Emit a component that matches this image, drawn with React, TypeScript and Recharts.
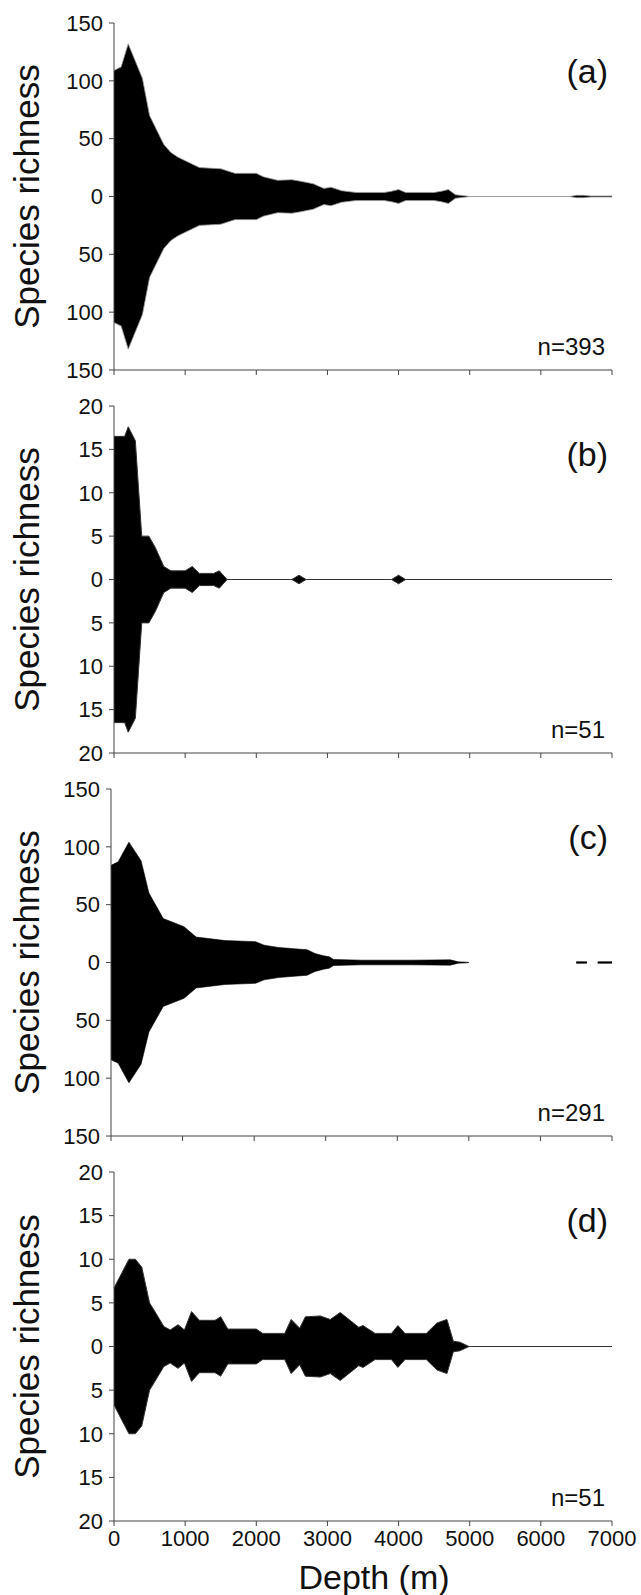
import React from "react";
import { AreaChart, Area, XAxis, YAxis } from "recharts";

// depth ticks shared by all four panels
const depthTicks = [0, 1000, 2000, 3000, 4000, 5000, 6000, 7000];
const wideTicks = [-150, -100, -50, 0, 50, 100, 150];
const narrowTicks = [-20, -15, -10, -5, 0, 5, 10, 15, 20];

// (a) all species
const depthA = [0, 100, 200, 400, 500, 700, 800, 900, 1200, 1500, 1700, 2000, 2100, 2300, 2500, 2600, 2800, 2950, 3050, 3200, 3400, 3800, 3900, 4000, 4100, 4500, 4600, 4700, 4800, 4950, 5000, 6400, 6500, 6600, 6700, 7000];
const richA = [109, 112, 132, 102, 70, 45, 38, 34, 25, 24, 20, 20, 17, 14, 14.5, 13.5, 11, 7, 8, 5, 3.5, 3.5, 4.5, 6, 3.5, 3.5, 4.5, 6, 1.5, 0.5, 0, 0, 1, 1, 0.5, 0.5];

// (b)
const depthB = [0, 150, 200, 300, 390, 490, 580, 700, 800, 1000, 1100, 1200, 1400, 1480, 1590, 2500, 2600, 2700, 3900, 4000, 4100, 7000];
const richB = [16.5, 16.5, 17.6, 16, 5, 5, 3.7, 1.5, 1, 1, 1.5, 0.7, 0.7, 1, 0, 0, 0.5, 0, 0, 0.5, 0, 0];

// (c)
const depthC = [0, 100, 250, 420, 530, 730, 1020, 1190, 1590, 2020, 2140, 2340, 2740, 2850, 2970, 3050, 3110, 3500, 4200, 4740, 4850, 4970, 5000, 5500, 6500, 6650, 6700, 6800, 7000];
const richC = [84, 87, 104, 88, 60, 38, 31, 22, 19, 18, 15, 13, 11, 7.8, 5.8, 4.9, 2.6, 2, 2, 2.3, 0.6, 0.3, 0, null, 0.7, 0.7, null, 0.7, 0.7];

// (d)
const depthD = [0, 210, 300, 390, 500, 590, 700, 790, 900, 990, 1090, 1200, 1420, 1500, 1600, 2000, 2090, 2400, 2490, 2610, 2690, 2900, 3040, 3180, 3440, 3500, 3670, 3900, 3990, 4090, 4390, 4540, 4680, 4770, 4860, 4990, 7000];
const richD = [6.7, 10, 10, 9.1, 5, 3.8, 2.3, 1.9, 2.5, 1.9, 4, 3, 3, 3.4, 2, 2, 1.5, 1.5, 3.1, 2.1, 3.4, 3.5, 3.1, 3.9, 2.2, 2.4, 1.5, 1.5, 2.4, 1.5, 1.5, 2.7, 3.1, 0.6, 0.5, 0, 0];

const FONT = "'Liberation Sans', Arial, sans-serif";
const AXIS = "#444";
const MT = 12;
const PLOT_H = 347;

function rows(depths: number[], values: (number | null)[]) {
  return depths.map((d, i) => ({
    depth: d,
    range: values[i] == null ? null : [-(values[i] as number), values[i] as number],
  }));
}

type PanelProps = {
  top: number;
  left: number;
  plotH: number;
  max: number;
  ticks: number[];
  depths: number[];
  values: (number | null)[];
  tag: string;
  n: string;
  stroke: string;
  strokeWidth: number;
  bottom?: boolean;
};

function Panel({ top, left, plotH, max, ticks, depths, values, tag, n, stroke, strokeWidth, bottom }: PanelProps) {
  const xH = bottom ? 74 : 8;
  const mb = bottom ? 0 : 14;
  const h = MT + plotH + xH + mb;
  const cy = MT + plotH / 2;
  return (
    <div style={{ position: "absolute", top: top - MT, left: 0 }}>
      <AreaChart
        width={641}
        height={h}
        data={rows(depths, values)}
        margin={{ top: MT, right: 29, bottom: mb, left: left - 60 }}
      >
        <XAxis
          dataKey="depth"
          type="number"
          domain={[0, 7000]}
          ticks={depthTicks}
          interval={0}
          height={xH}
          tickSize={5}
          tickMargin={4}
          stroke={AXIS}
          tick={{ fontSize: 22, fill: "#111", fontFamily: FONT }}
          tickFormatter={(v) => (bottom ? String(v) : "")}
        />
        <XAxis xAxisId="top" orientation="top" dataKey="depth" type="number" domain={[0, 7000]} height={0} tick={false} tickLine={false} stroke={AXIS} />
        <YAxis
          type="number"
          domain={[-max, max]}
          ticks={ticks}
          interval={0}
          width={60}
          tickSize={5}
          tickMargin={6}
          stroke={AXIS}
          allowDataOverflow
          tick={{ fontSize: 22, fill: "#111", fontFamily: FONT }}
          tickFormatter={(v) => String(Math.abs(v))}
        />
        <YAxis yAxisId="right" orientation="right" type="number" domain={[-max, max]} width={0} tick={false} tickLine={false} stroke={AXIS} />
        <Area
          type="linear"
          dataKey="range"
          fill="#000"
          fillOpacity={1}
          stroke={stroke}
          strokeWidth={strokeWidth}
          isAnimationActive={false}
          dot={false}
          activeDot={false}
        />
        <text x={39} y={cy} transform={`rotate(-90 39 ${cy})`} textAnchor="middle" fontSize={35} fill="#111" fontFamily={FONT}>
          Species richness
        </text>
        <text x={608} y={MT + 60} textAnchor="end" fontSize={34} fill="#111" fontFamily={FONT}>
          {tag}
        </text>
        <text x={605} y={MT + plotH - 15} textAnchor="end" fontSize={24} fill="#111" fontFamily={FONT}>
          {n}
        </text>
        {bottom ? (
          <text x={374} y={MT + plotH + 68} textAnchor="middle" fontSize={34} fill="#111" fontFamily={FONT}>
            Depth (m)
          </text>
        ) : null}
      </AreaChart>
    </div>
  );
}

export default function App() {
  return (
    <div style={{ position: "relative", width: 641, height: 1595, background: "#fff", overflow: "hidden" }}>
      <style>{"body{margin:0}"}</style>
      <Panel top={23} left={114} plotH={PLOT_H} max={150} ticks={wideTicks} depths={depthA} values={richA} tag="(a)" n="n=393" stroke="#999" strokeWidth={0.8} />
      <Panel top={406} left={114} plotH={PLOT_H} max={20} ticks={narrowTicks} depths={depthB} values={richB} tag="(b)" n="n=51" stroke="#333" strokeWidth={1} />
      <Panel top={789} left={111} plotH={PLOT_H} max={150} ticks={wideTicks} depths={depthC} values={richC} tag="(c)" n="n=291" stroke="#000" strokeWidth={0.6} />
      <Panel top={1172} left={114} plotH={349} max={20} ticks={narrowTicks} depths={depthD} values={richD} tag="(d)" n="n=51" stroke="#333" strokeWidth={1} bottom />
    </div>
  );
}
